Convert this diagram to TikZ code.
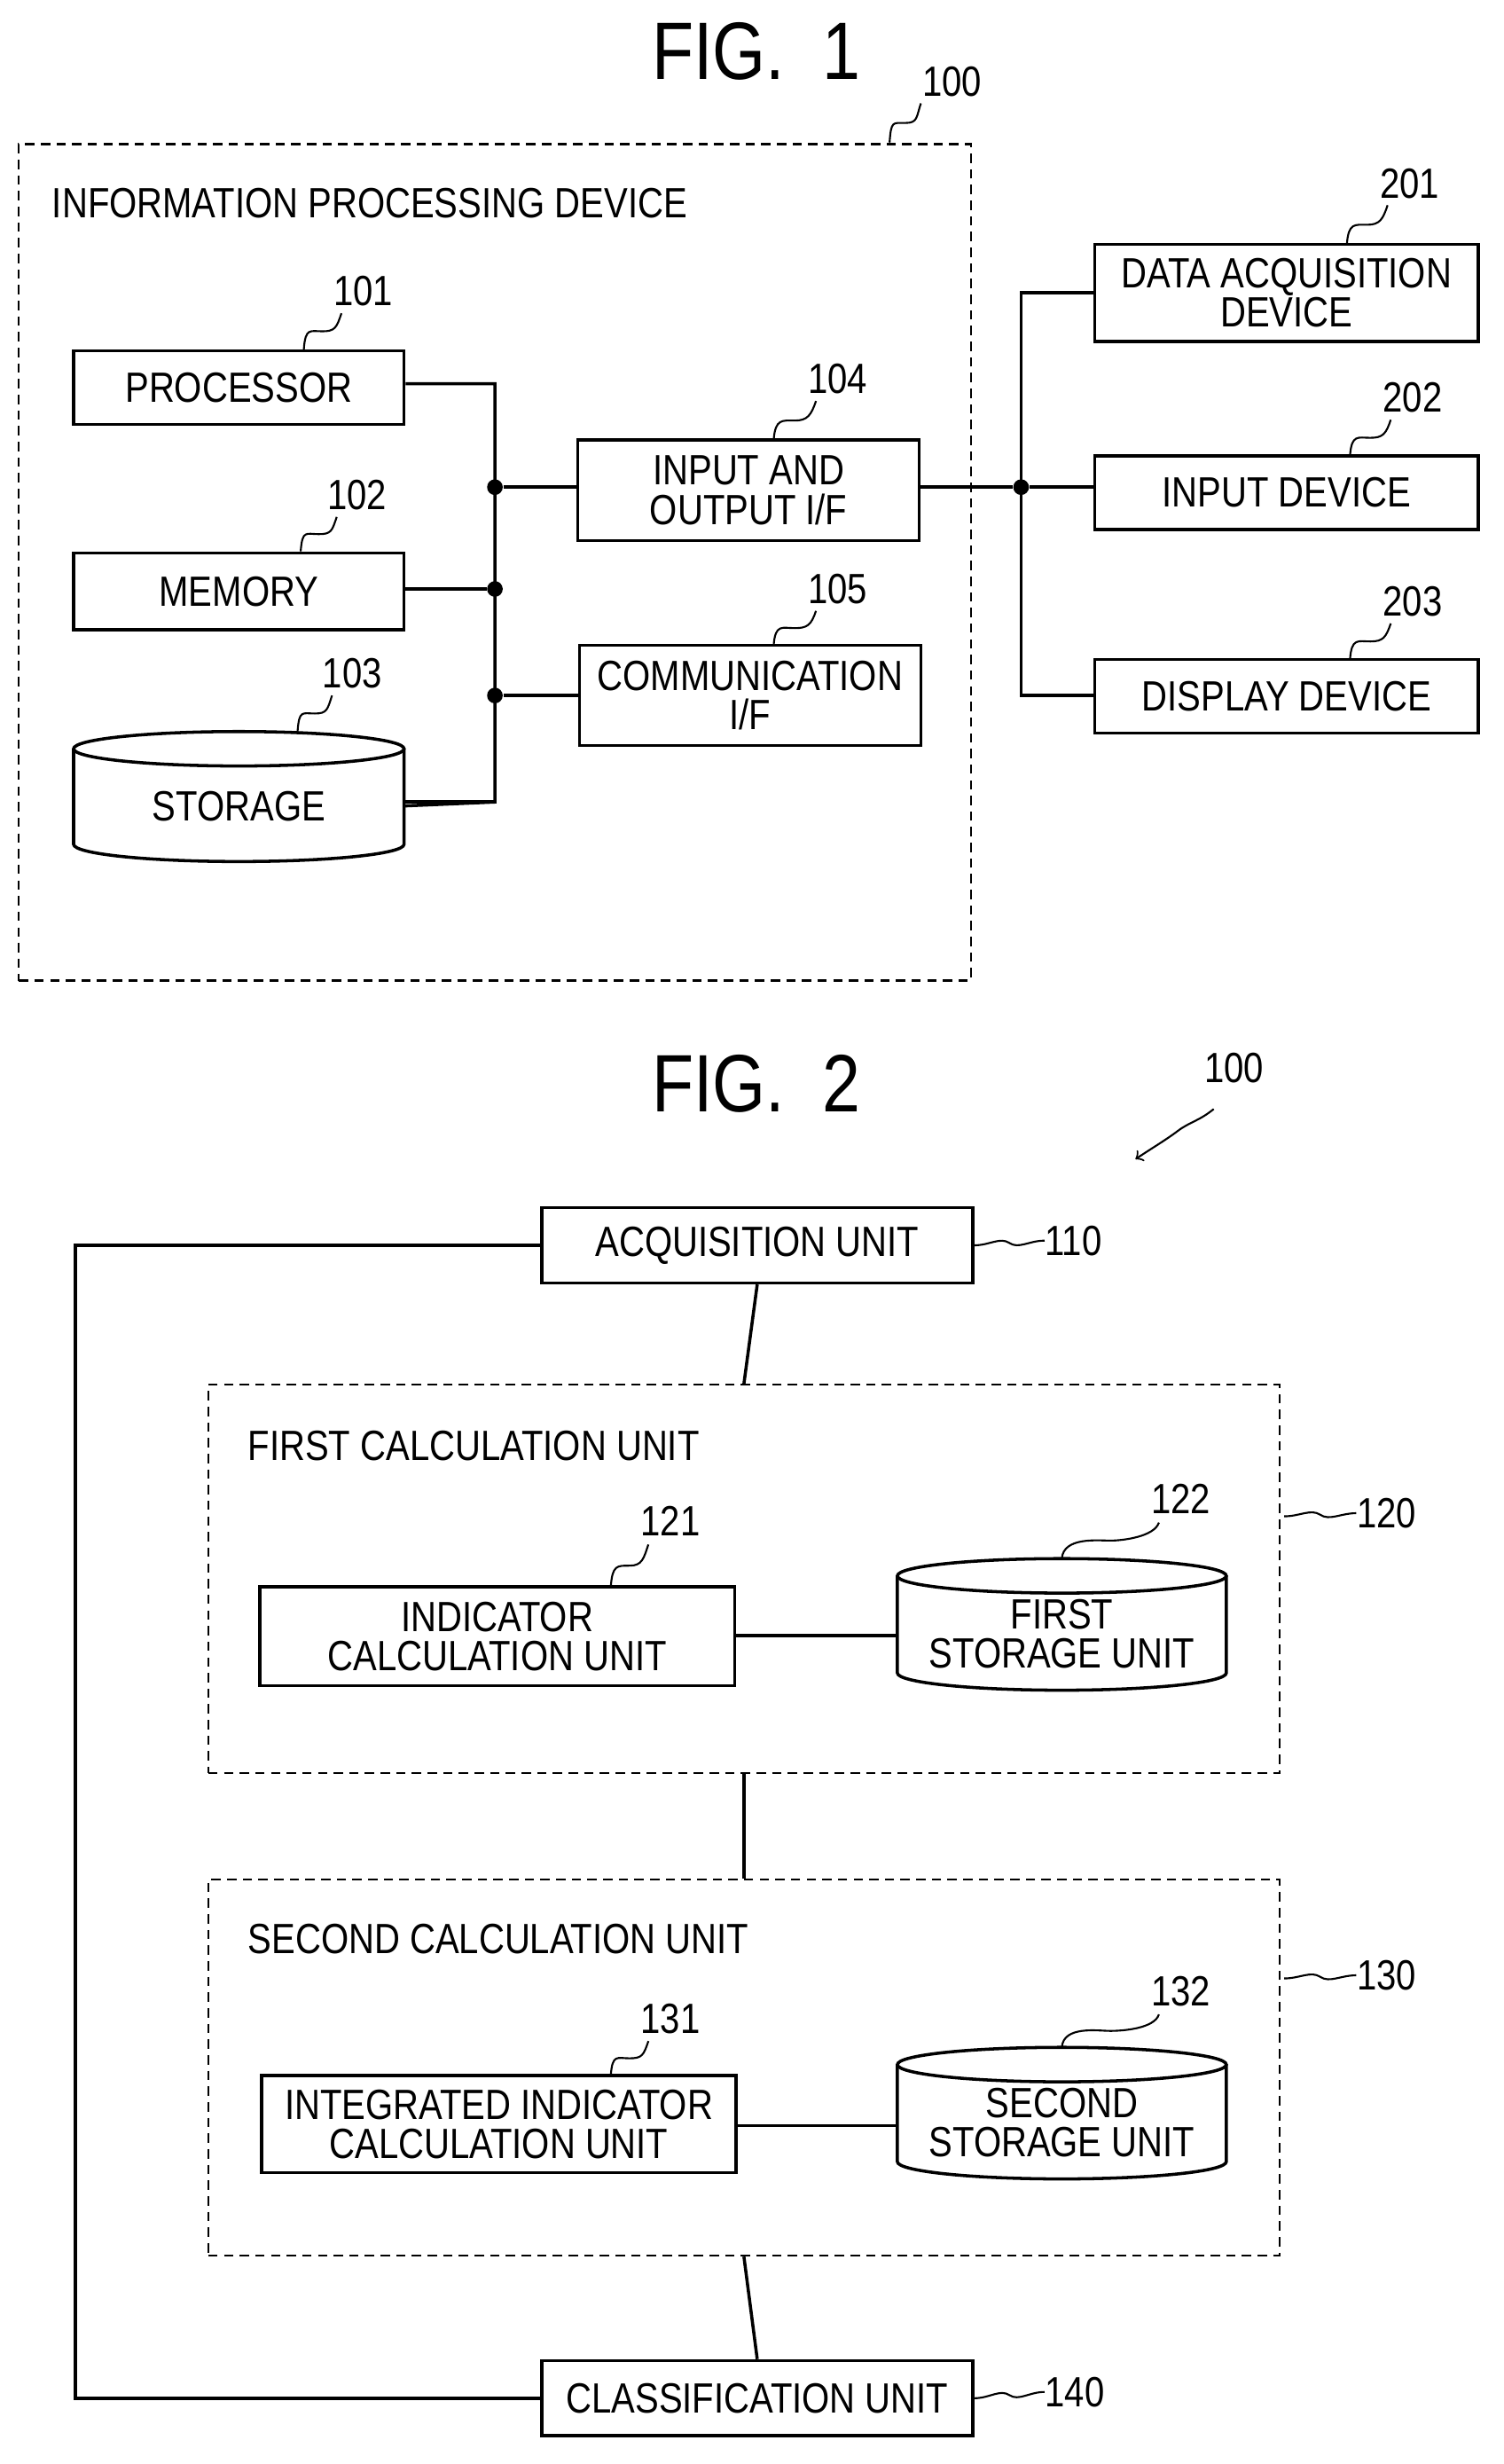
\documentclass[tikz,border=0pt]{standalone}
\usepackage{fontspec}
\setmainfont{Liberation Sans}[FakeStretch=0.84]
\usetikzlibrary{fit,calc}
\begin{document}
\begin{tikzpicture}[x=0.5pt,y=-0.5pt,
  box/.style={draw,line width=1pt,inner sep=0pt},
  dbox/.style={draw,line width=0.6pt,dash pattern=on 3pt off 2pt,inner sep=0pt},
  txt/.style={font=\fontsize{13.5}{12.5}\selectfont,align=center,inner sep=0pt},
  num/.style={font=\fontsize{13.5}{14}\selectfont,inner sep=0pt},
  ttl/.style={font=\fontsize{26}{28}\selectfont,inner sep=0pt},
  ln/.style={line width=1pt},
  lead/.style={line width=0.6pt},
  dot/.style={circle,fill=black,inner sep=0pt,minimum size=5pt}]
\useasboundingbox (0,0) rectangle (960,1573);
\newcommand{\squig}[2]{\draw[lead] (#1) .. controls +(1,-14) and +(-8,0) .. ($(#1)!.5!(#2)$) .. controls +(8,0) and +(-3,9) .. (#2);}
\newcommand{\hsquig}[2]{\draw[lead] (#1) .. controls +(10,0) and +(-6,-4) .. ($(#1)!.5!(#2)$) .. controls +(6,4) and +(-10,0) .. (#2);}
\newcommand{\cyl}[5]{% name, x1, x2, ytopcenter, ybottomcenter
  \draw[ln] (#2,#4) -- (#2,#5) arc(180:0:{(#3-#2)/2} and 11) -- (#3,#4);
  \draw[ln] ({(#2+#3)/2},#4) ellipse ({(#3-#2)/2} and 11);
  \coordinate (#1) at ({(#2+#3)/2},{(#4+#5)/2+6});
  \coordinate (#1-top) at ({(#2+#3)/2},{#4-11});
  \coordinate (#1-l) at (#2,{(#4+#5)/2+6});
}
% ---------- FIG 1
\node[ttl] (t1) at (483,33) {FIG.\ \ 1};
\node[dbox,fit={(12,92)(620,626)}] (b100) {};
\node[num] (n100) at (608,52) {100};
\coordinate (a100) at (568,91);
\squig{a100}{588,66}
\node[txt,anchor=west] (ipd) at (33,130) {INFORMATION PROCESSING DEVICE};
\node[box,fit={(47,224)(258,271)}] (proc) {};
\node[txt] (proct) at (proc.center) {PROCESSOR};
\node[num] (n101) at (232,186) {101};
\coordinate (a101) at (194,223);
\squig{a101}{218,200}
\node[box,fit={(47,353)(258,402)}] (mem) {};
\node[txt] (memt) at (mem.center) {MEMORY};
\node[num] (n102) at (228,316) {102};
\coordinate (a102) at (192,352);
\squig{a102}{215,330}
\cyl{stor}{47}{258}{478}{539}
\node[txt] (stort) at (stor) {STORAGE};
\node[num] (n103) at (225,430) {103};
\coordinate (a103) at (190,467);
\squig{a103}{212,444}
\node[box,fit={(369,281)(587,345)}] (io) {};
\node[txt] (iot) at (io.center) {INPUT AND\\OUTPUT I/F};
\node[num] (n104) at (535,242) {104};
\coordinate (a104) at (494,281);
\squig{a104}{521,256}
\node[box,fit={(370,412)(588,476)}] (com) {};
\node[txt] (comt) at (com.center) {COMMUNICATION\\I/F};
\node[num] (n105) at (535,376) {105};
\coordinate (a105) at (494,412);
\squig{a105}{521,390}
\coordinate (bt) at (316,245);
\coordinate (bb) at (316,512);
\node[dot] (d1) at (316,311) {};
\node[dot] (d2) at (316,376) {};
\node[dot] (d3) at (316,444) {};
\draw[ln] (proc.east|-bt) -- (bt) -- (bb) -- (stor-l-|258,0);
\draw[ln] (258,512) -- (bb);
\draw[ln] (d1) -- (io.west|-d1);
\draw[ln] (mem.east|-d2) -- (d2);
\draw[ln] (d3) -- (com.west|-d3);
\node[box,fit={(699,156)(944,218)}] (dad) {};
\node[txt] (dadt) at (dad.center) {DATA ACQUISITION\\DEVICE};
\node[num] (n201) at (900,117) {201};
\coordinate (a201) at (860,156);
\squig{a201}{886,131}
\node[box,fit={(699,291)(944,338)}] (ind) {};
\node[txt] (indt) at (ind.center) {INPUT DEVICE};
\node[num] (n202) at (902,254) {202};
\coordinate (a202) at (862,291);
\squig{a202}{888,268}
\node[box,fit={(699,421)(944,468)}] (dis) {};
\node[txt] (dist) at (dis.center) {DISPLAY DEVICE};
\node[num] (n203) at (902,384) {203};
\coordinate (a203) at (862,421);
\squig{a203}{888,398}
\node[dot] (d4) at (652,311) {};
\coordinate (rt) at (652,187);
\coordinate (rb) at (652,444);
\draw[ln] (io.east|-d4) -- (d4) -- (ind.west|-d4);
\draw[ln] (dad.west|-rt) -- (rt) -- (rb) -- (dis.west|-rb);
% ---------- FIG 2
\node[ttl] (t2) at (483,692) {FIG.\ \ 2};
\node[num] (n100b) at (788,682) {100};
\coordinate (s100) at (775,708);
\coordinate (e100) at (725,740);
\draw[lead,->] (s100) .. controls +(-10,8) and +(8,-6) .. (752,722) .. controls +(-8,6) and +(12,-8) .. (e100);
\node[box,fit={(346,771)(621,819)}] (acq) {};
\node[txt] (acqt) at (acq.center) {ACQUISITION UNIT};
\node[num,anchor=west] (n110) at (667,792) {110};
\hsquig{acq.east}{n110.west}
\node[dbox,fit={(133,884)(817,1132)}] (b120) {};
\node[txt,anchor=west] (fcu) at (158,923) {FIRST CALCULATION UNIT};
\node[num,anchor=west] (n120) at (866,966) {120};
\coordinate (a120) at (820,968);
\hsquig{a120}{n120.west}
\node[box,fit={(166,1013)(469,1076)}] (ic) {};
\node[txt] (ict) at (ic.center) {INDICATOR\\CALCULATION UNIT};
\node[num] (n121) at (428,971) {121};
\coordinate (a121) at (390,1013);
\squig{a121}{414,986}
\cyl{fs}{573}{783}{1006}{1068}
\node[txt] (fst) at (fs) {FIRST\\STORAGE UNIT};
\node[num] (n122) at (754,957) {122};
\squig{fs-top}{740,972}
\draw[ln] (ic.east|-0,1044) -- (573,1044);
\node[dbox,fit={(133,1200)(817,1440)}] (b130) {};
\node[txt,anchor=west] (scu) at (158,1238) {SECOND CALCULATION UNIT};
\node[num,anchor=west] (n130) at (866,1261) {130};
\coordinate (a130) at (820,1263);
\hsquig{a130}{n130.west}
\node[box,fit={(167,1325)(470,1387)}] (iic) {};
\node[txt] (iict) at (iic.center) {INTEGRATED INDICATOR\\CALCULATION UNIT};
\node[num] (n131) at (428,1289) {131};
\coordinate (a131) at (390,1325);
\squig{a131}{414,1303}
\cyl{ss}{573}{783}{1318}{1380}
\node[txt] (sst) at (ss) {SECOND\\STORAGE UNIT};
\node[num] (n132) at (754,1271) {132};
\squig{ss-top}{740,1286}
\draw[ln] (iic.east|-0,1357) -- (573,1357);
\node[box,fit={(346,1507)(621,1555)}] (cls) {};
\node[txt] (clst) at (cls.center) {CLASSIFICATION UNIT};
\node[num,anchor=west] (n140) at (667,1527) {140};
\hsquig{cls.east}{n140.west}
\draw[ln] (acq.south) -- (b120.north);
\draw[ln] (b120.south) -- (b130.north);
\draw[ln] (b130.south) -- (cls.north);
\draw[ln] (acq.west) -- (48,795) -- (48,1531) -- (cls.west);
\end{tikzpicture}
\end{document}
